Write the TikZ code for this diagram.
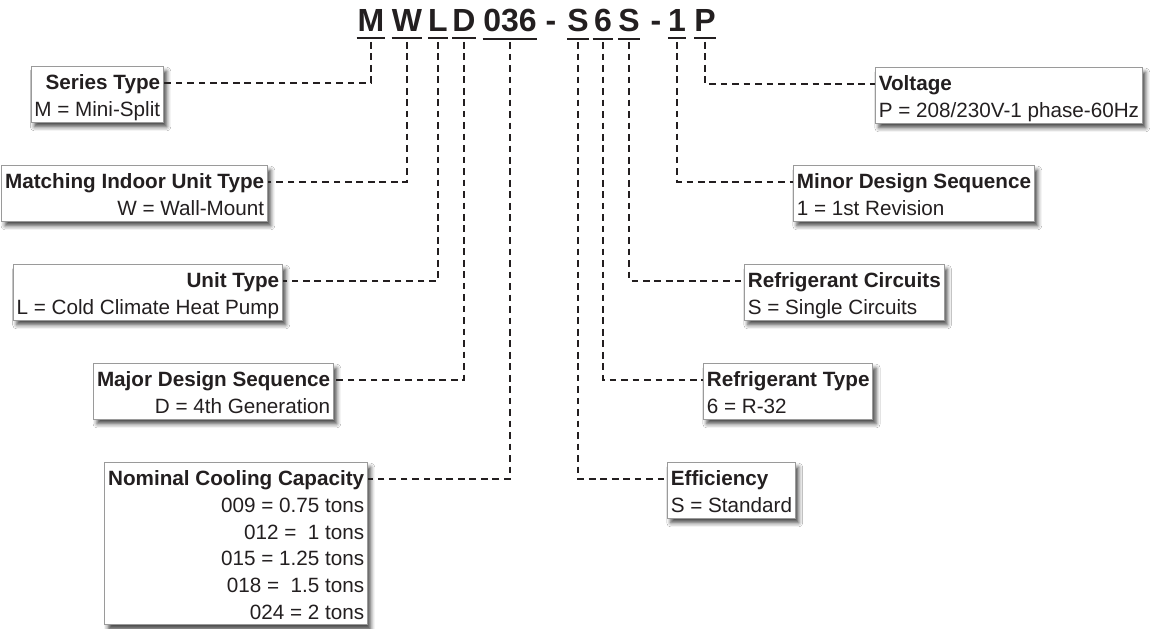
\documentclass[tikz,border=0pt]{standalone}
\usepackage{fontspec}
\setmainfont{Liberation Sans}
\usetikzlibrary{shadows.blur}

\definecolor{ink}{HTML}{231F20}
\definecolor{frame}{HTML}{9A9A9A}
\newcommand{\kst}{\rule[-4.3pt]{0pt}{21.8pt}}

\tikzset{
    codechar/.style={anchor=base, inner sep=0pt, text=ink,
        font={\fontsize{24}{28}\selectfont\bfseries}},
    uline/.style={draw=ink, line width=1.5pt},
    leader/.style={draw=ink, line width=1.5pt, dash pattern=on 5pt off 3.6pt},
    keybox/.style={draw=frame, line width=0.75pt, fill=white, text=ink,
        inner xsep=2.5pt, inner ysep=0pt,
        font={\fontsize{15.5}{20}\selectfont\lineskiplimit=-30pt},
        blur shadow={shadow xshift=2.5pt, shadow yshift=-3.5pt,
            shadow blur radius=3pt, shadow opacity=70}},
    leftbox/.style={keybox, anchor=north east, align=right},
    rightbox/.style={keybox, anchor=north west, align=left}
}

\begin{document}
\begin{tikzpicture}[x=0.75pt, y=-0.75pt]
    \useasboundingbox (0,0) rectangle (1158,629);
    \fill[white] (0,0) rectangle (1158,629);

    % model number
    \foreach \nm/\txt/\cx/\cw in {cM/M/371/28, cW/W/407/28, cL/L/438/16,
        cD/D/464/20, cNum/036/510/54, cS/S/578/21, cSix/6/603/20,
        cR/S/629/18, cOne/1/677/17, cP/P/705/20}
    {
        \node[codechar, minimum width=\cw*0.75pt] (\nm) at (\cx,31.7) {\txt};
        \draw[uline] ([yshift=-4.8pt]\nm.south west) -- ([yshift=-4.8pt]\nm.south east);
    }
    \node[codechar] (dashA) at (551,31.7) {-};
    \node[codechar] (dashB) at (656,31.7) {-};

    % left boxes
    \node[leftbox] (series) at (164,66)
        {\textbf{Series Type}\kst\\M = Mini-Split\kst};
    \node[leftbox] (matching) at (268,165)
        {\textbf{Matching Indoor Unit Type}\kst\\W = Wall-Mount\kst};
    \node[leftbox] (unittype) at (283,264)
        {\textbf{Unit Type}\kst\\L = Cold Climate Heat Pump\kst};
    \node[leftbox] (major) at (334,363)
        {\textbf{Major Design Sequence}\kst\\D = 4th Generation\kst};
    \node[leftbox] (nominal) at (368,462)
        {\textbf{Nominal Cooling Capacity}\kst\\009 = 0.75 tons\kst\\012 = \ 1 tons\kst\\
         015 = 1.25 tons\kst\\018 = \ 1.5 tons\kst\\024 = 2 tons\kst};

    % right boxes
    \node[rightbox] (voltage) at (875,67)
        {\textbf{Voltage}\kst\\P = 208/230V-1 phase-60Hz\kst};
    \node[rightbox] (minor) at (793,165)
        {\textbf{Minor Design Sequence}\kst\\1 = 1st Revision\kst};
    \node[rightbox] (circuits) at (744,264)
        {\textbf{Refrigerant Circuits}\kst\\S = Single Circuits\kst};
    \node[rightbox] (reftype) at (703,363)
        {\textbf{Refrigerant Type}\kst\\6 = R-32\kst};
    \node[rightbox] (efficiency) at (667,462)
        {\textbf{Efficiency}\kst\\S = Standard\kst};

    % leaders
    \draw[leader] ([yshift=-7.5pt]cM.south) |- ([yshift=-12.4pt]series.north east);
    \draw[leader] ([yshift=-7.5pt]cW.south) |- ([yshift=-12.4pt]matching.north east);
    \draw[leader] ([yshift=-7.5pt]cL.south) |- ([yshift=-12.4pt]unittype.north east);
    \draw[leader] ([yshift=-7.5pt]cD.south) |- ([yshift=-12.4pt]major.north east);
    \draw[leader] ([yshift=-7.5pt]cNum.south) |- ([yshift=-12.4pt]nominal.north east);
    \draw[leader] ([yshift=-7.5pt]cS.south) |- ([yshift=-12.4pt]efficiency.north west);
    \draw[leader] ([yshift=-7.5pt]cSix.south) |- ([yshift=-12.4pt]reftype.north west);
    \draw[leader] ([yshift=-7.5pt]cR.south) |- ([yshift=-12.4pt]circuits.north west);
    \draw[leader] ([yshift=-7.5pt]cOne.south) |- ([yshift=-12.4pt]minor.north west);
    \draw[leader] ([yshift=-7.5pt]cP.south) |- ([yshift=-12.4pt]voltage.north west);

\end{tikzpicture}
\end{document}
